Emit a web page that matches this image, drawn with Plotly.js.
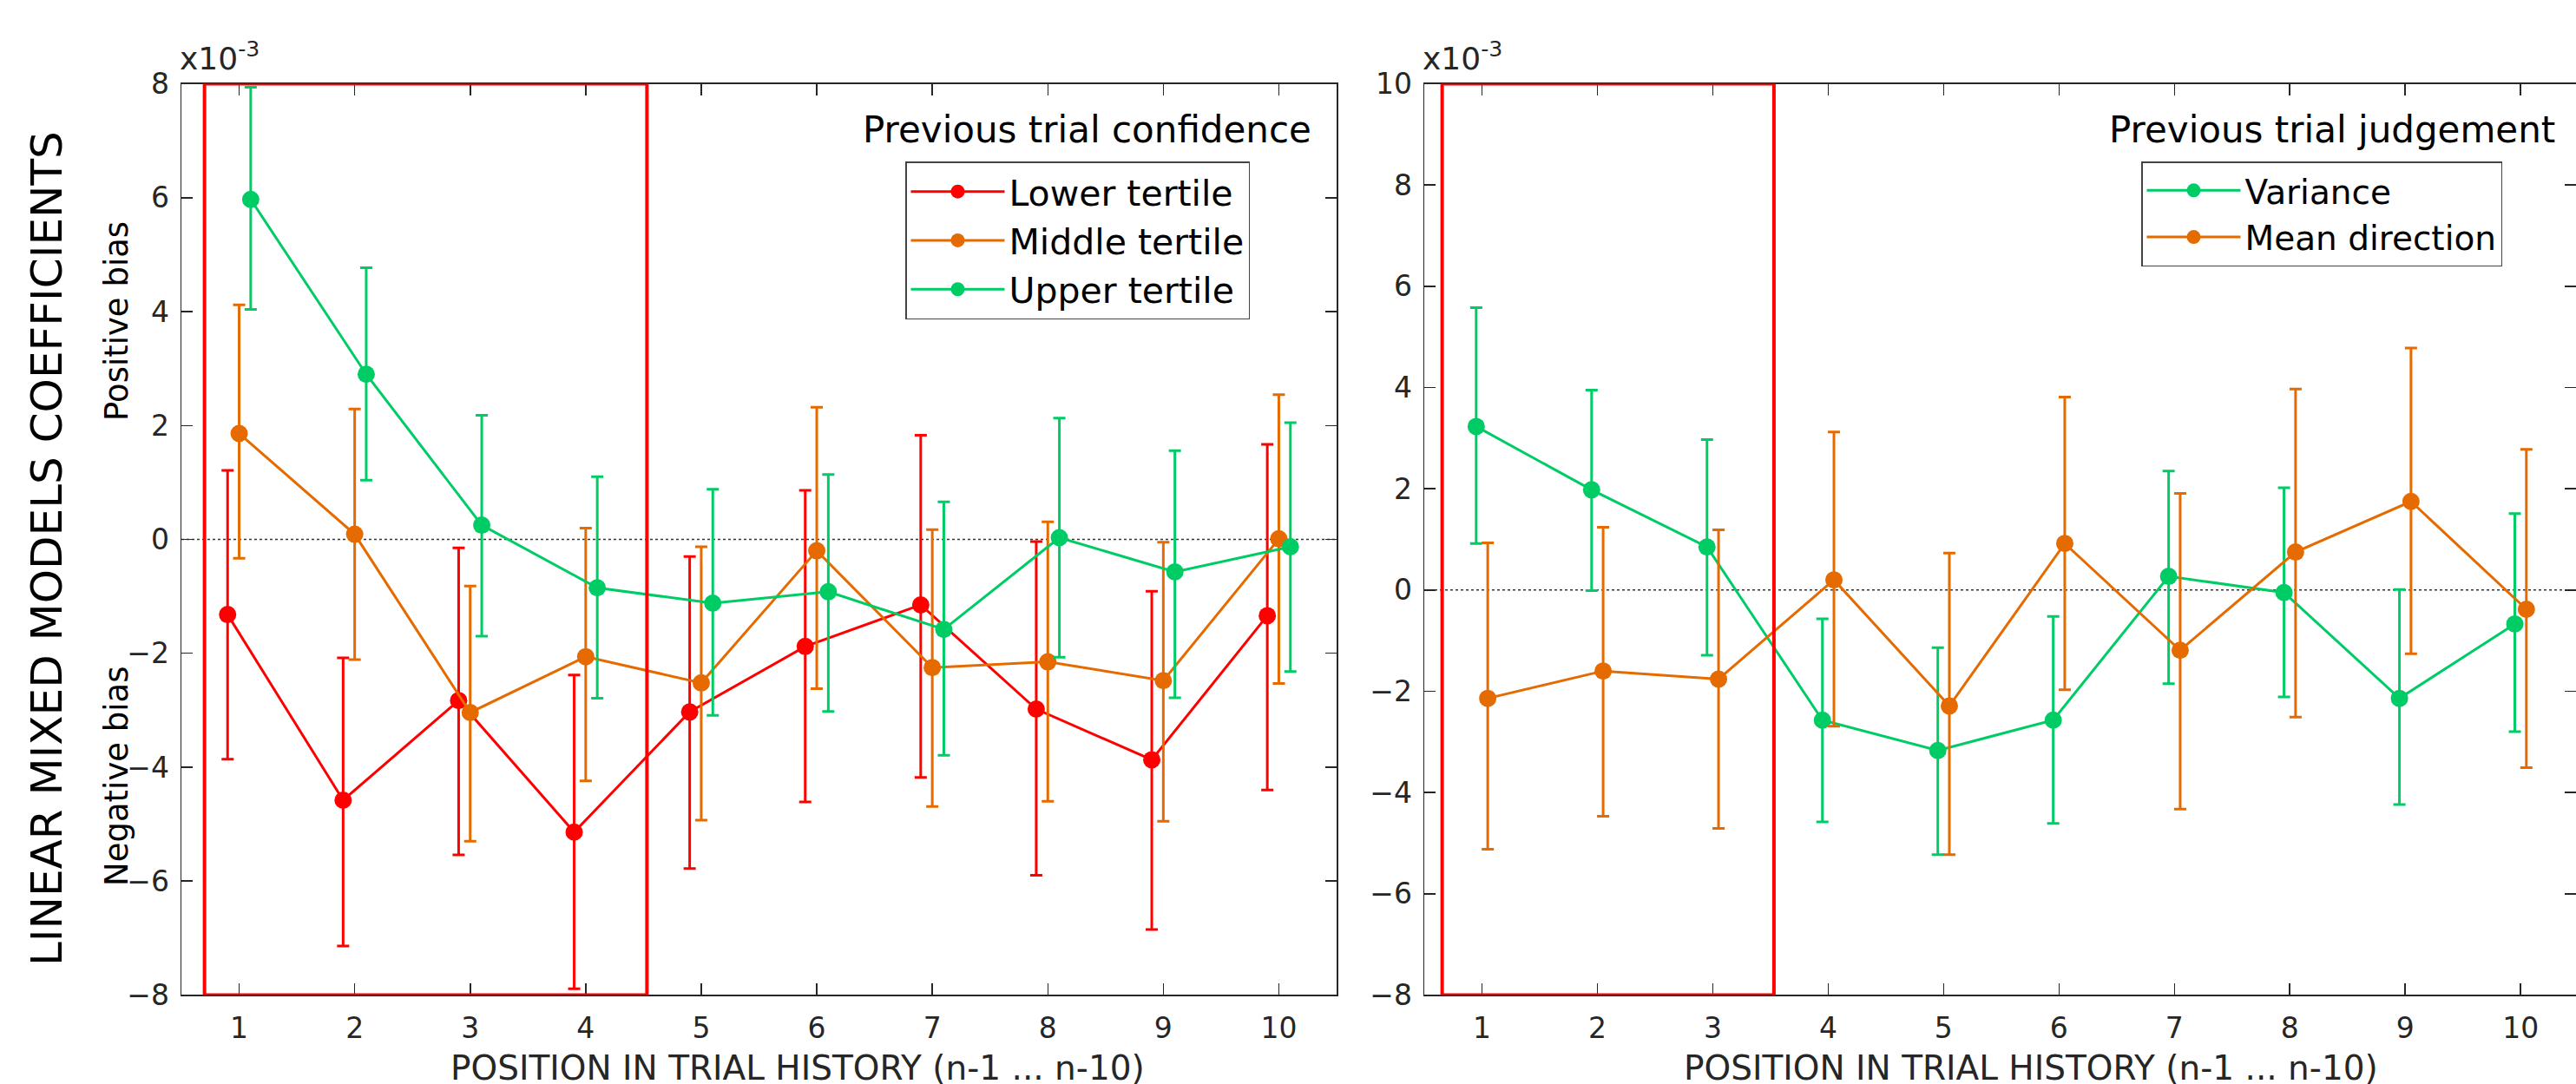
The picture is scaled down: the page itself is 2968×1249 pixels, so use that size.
<!DOCTYPE html>
<html>
<head>
<meta charset="utf-8">
<script src="https://cdn.plot.ly/plotly-3.0.1.min.js"></script>
<style>html,body{margin:0;padding:0;background:#fff;}#chart{width:2968px;height:1249px;}</style>
</head>
<body>
<div id="chart"></div>
<script>
// ---- data (values in units of 1e-3) ----
const positions = [1, 2, 3, 4, 5, 6, 7, 8, 9, 10];

const lowerMean = [-1.32, -4.58, -2.83, -5.14, -3.03, -1.88, -1.15, -2.98, -3.87, -1.34];
const lowerHigh = [1.21, -2.08, -0.15, -2.38, -0.30, 0.86, 1.83, -0.04, -0.91, 1.67];
const lowerLow  = [-3.86, -7.14, -5.54, -7.89, -5.78, -4.61, -4.18, -5.90, -6.85, -4.40];

const middleMean = [1.86, 0.09, -3.04, -2.06, -2.52, -0.20, -2.25, -2.15, -2.48, 0.01];
const middleHigh = [4.12, 2.29, -0.82, 0.20, -0.13, 2.32, 0.17, 0.31, -0.05, 2.54];
const middleLow  = [-0.33, -2.11, -5.30, -4.24, -4.93, -2.62, -4.69, -4.60, -4.95, -2.53];

const upperMean = [5.97, 2.90, 0.25, -0.85, -1.12, -0.92, -1.58, 0.03, -0.57, -0.13];
const upperHigh = [7.94, 4.77, 2.18, 1.10, 0.88, 1.14, 0.66, 2.13, 1.56, 2.05];
const upperLow  = [4.04, 1.04, -1.70, -2.79, -3.09, -3.02, -3.79, -2.07, -2.78, -2.32];

const varianceMean = [3.23, 1.98, 0.85, -2.57, -3.17, -2.57, 0.27, -0.05, -2.14, -0.67];
const varianceHigh = [5.58, 3.95, 2.97, -0.57, -1.14, -0.52, 2.35, 2.02, 0.01, 1.51];
const varianceLow  = [0.92, -0.01, -1.29, -4.58, -5.23, -4.61, -1.85, -2.11, -4.24, -2.80];

const meanDirMean = [-2.14, -1.60, -1.76, 0.20, -2.29, 0.92, -1.19, 0.75, 1.75, -0.38];
const meanDirHigh = [0.93, 1.24, 1.19, 3.12, 0.73, 3.81, 1.91, 3.97, 4.78, 2.78];
const meanDirLow  = [-5.12, -4.47, -4.71, -2.69, -5.23, -1.97, -4.33, -2.51, -1.26, -3.51];

const leftNames = ['Lower tertile', 'Middle tertile', 'Upper tertile'];
const rightNames = ['Variance', 'Mean direction'];
const leftLegendTitle = 'Previous trial confidence';
const rightLegendTitle = 'Previous trial judgement';
const xTitle = 'POSITION IN TRIAL HISTORY (n-1 ... n-10)';
const yTitle = 'LINEAR MIXED MODELS COEFFICIENTS';
const leftTicks = [-8, -6, -4, -2, 0, 2, 4, 6, 8];
const rightTicks = [-8, -6, -4, -2, 0, 2, 4, 6, 8, 10];
const leftHighlight = [0.70, 4.53];
const rightHighlight = [0.655, 3.53];

// ---- styles ----
const RED = '#FF0000', ORANGE = '#E56A00', GREEN = '#00CC66';
const AX = '#262626';
const FONT = 'DejaVu Sans, Verdana, sans-serif';
const W = 2968, H = 1249;
const px = v => v / W, py = v => 1 - v / H;

function series(xOffset, mean, high, low, name, color, xa, ya, legend) {
  return {
    type: 'scatter', mode: 'lines+markers', name: name,
    x: positions.map(p => p + xOffset), y: mean,
    xaxis: xa, yaxis: ya, legend: legend,
    line: {color: color, width: 3},
    marker: {color: color, size: 20, symbol: 'circle'},
    error_y: {type: 'data', symmetric: false,
      array: high.map((h, i) => h - mean[i]),
      arrayminus: low.map((l, i) => mean[i] - l),
      color: color, thickness: 3, width: 7},
    cliponaxis: false
  };
}

const traces = [
  series(-0.1, lowerMean, lowerHigh, lowerLow, leftNames[0], RED, 'x', 'y', 'legend'),
  series(0, middleMean, middleHigh, middleLow, leftNames[1], ORANGE, 'x', 'y', 'legend'),
  series(0.1, upperMean, upperHigh, upperLow, leftNames[2], GREEN, 'x', 'y', 'legend'),
  series(-0.05, varianceMean, varianceHigh, varianceLow, rightNames[0], GREEN, 'x2', 'y2', 'legend2'),
  series(0.05, meanDirMean, meanDirHigh, meanDirLow, rightNames[1], ORANGE, 'x2', 'y2', 'legend2')
];

const axisCommon = {
  showline: true, linecolor: AX, linewidth: 1.5, mirror: 'ticks',
  ticks: 'inside', ticklen: 13, tickwidth: 1.5, tickcolor: AX,
  showgrid: false, zeroline: false,
  tickfont: {family: FONT, size: 33, color: AX}
};

const layout = {
  width: W, height: H,
  margin: {l: 0, r: 0, t: 0, b: 0},
  paper_bgcolor: '#fff', plot_bgcolor: '#fff',
  showlegend: true,
  xaxis: Object.assign({}, axisCommon, {domain: [px(209), px(1540)], range: [0.5, 10.5],
    tickvals: positions, anchor: 'y', ticklabelstandoff: 8}),
  yaxis: Object.assign({}, axisCommon, {domain: [py(1146.4), py(96.6)], range: [-8, 8],
    tickvals: leftTicks, anchor: 'x', ticklabelstandoff: 6}),
  xaxis2: Object.assign({}, axisCommon, {domain: [px(1641), 1], range: [0.5, 10.48],
    tickvals: positions, anchor: 'y2', ticklabelstandoff: 8}),
  yaxis2: Object.assign({}, axisCommon, {domain: [py(1146.4), py(96.6)], range: [-8, 10],
    tickvals: rightTicks, anchor: 'x2', ticklabelstandoff: 6}),
  legend: {x: px(1043), y: py(186), xanchor: 'left', yanchor: 'top',
    bgcolor: '#fff', bordercolor: '#444', borderwidth: 1.5,
    font: {family: FONT, size: 41, color: '#000'}, itemwidth: 108, traceorder: 'normal'},
  legend2: {x: px(2467), y: py(186), xanchor: 'left', yanchor: 'top',
    bgcolor: '#fff', bordercolor: '#444', borderwidth: 1.5,
    font: {family: FONT, size: 39, color: '#000'}, itemwidth: 108, traceorder: 'normal'},
  shapes: [
    {type: 'line', xref: 'x domain', yref: 'y', x0: 0, x1: 1, y0: 0, y1: 0,
      line: {color: '#333', width: 1.5, dash: 'dot'}, layer: 'below'},
    {type: 'line', xref: 'x2 domain', yref: 'y2', x0: 0, x1: 1, y0: 0, y1: 0,
      line: {color: '#333', width: 1.5, dash: 'dot'}, layer: 'below'},
    {type: 'rect', xref: 'x', yref: 'y', x0: leftHighlight[0], x1: leftHighlight[1], y0: -8, y1: 8,
      line: {color: RED, width: 4}, fillcolor: 'rgba(0,0,0,0)', layer: 'above'},
    {type: 'rect', xref: 'x2', yref: 'y2', x0: rightHighlight[0], x1: rightHighlight[1], y0: -8, y1: 10,
      line: {color: RED, width: 4}, fillcolor: 'rgba(0,0,0,0)', layer: 'above'}
  ],
  annotations: [
    {text: yTitle, xref: 'paper', yref: 'paper', x: px(54), y: py(632), textangle: -90,
      showarrow: false, font: {family: FONT, size: 50, color: '#000'}, xanchor: 'center', yanchor: 'middle'},
    {text: 'Positive bias', xref: 'paper', yref: 'paper', x: px(134), y: py(370), textangle: -90,
      showarrow: false, font: {family: FONT, size: 37, color: '#000'}, xanchor: 'center', yanchor: 'middle'},
    {text: 'Negative bias', xref: 'paper', yref: 'paper', x: px(134), y: py(894), textangle: -90,
      showarrow: false, font: {family: FONT, size: 37, color: '#000'}, xanchor: 'center', yanchor: 'middle'},
    {text: 'x10<sup>-3</sup>', xref: 'paper', yref: 'paper', x: px(205), y: py(90),
      showarrow: false, font: {family: FONT, size: 36, color: AX}, xanchor: 'left', yanchor: 'bottom'},
    {text: 'x10<sup>-3</sup>', xref: 'paper', yref: 'paper', x: px(1637), y: py(90),
      showarrow: false, font: {family: FONT, size: 36, color: AX}, xanchor: 'left', yanchor: 'bottom'},
    {text: xTitle, xref: 'paper', yref: 'paper', x: px(919), y: py(1230),
      showarrow: false, font: {family: FONT, size: 39, color: AX}, xanchor: 'center', yanchor: 'middle'},
    {text: xTitle, xref: 'paper', yref: 'paper', x: px(2340), y: py(1230),
      showarrow: false, font: {family: FONT, size: 39, color: AX}, xanchor: 'center', yanchor: 'middle'},
    {text: leftLegendTitle, xref: 'paper', yref: 'paper', x: px(1513), y: py(150),
      showarrow: false, font: {family: FONT, size: 42, color: '#000'}, xanchor: 'right', yanchor: 'middle'},
    {text: rightLegendTitle, xref: 'paper', yref: 'paper', x: px(2946), y: py(150),
      showarrow: false, font: {family: FONT, size: 42, color: '#000'}, xanchor: 'right', yanchor: 'middle'}
  ]
};

Plotly.newPlot('chart', traces, layout, {staticPlot: true, displayModeBar: false});
</script>
</body>
</html>
